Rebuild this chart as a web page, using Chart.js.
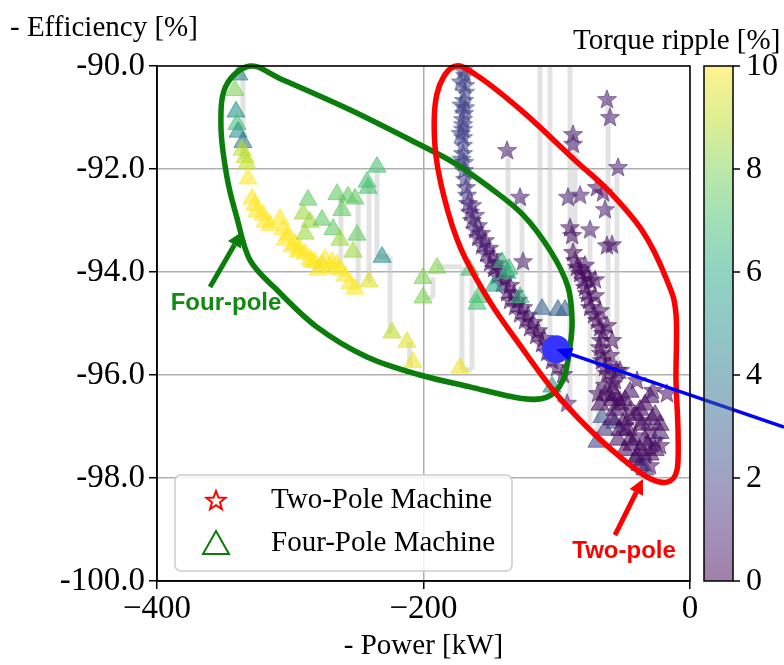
<!DOCTYPE html>
<html><head><meta charset="utf-8">
<script src="https://cdn.jsdelivr.net/npm/chart.js@4/dist/chart.umd.min.js"></script>
<style>html,body{margin:0;padding:0;background:#fff}</style>
</head><body>
<canvas id="c" width="784" height="665"></canvas>
<script>
// ---------------- DATA ----------------
const xTicks = [-400, -200, 0];
const yTicks = [-100, -98, -96, -94, -92, -90];
const cbTicks = [0, 2, 4, 6, 8, 10];

// Four-pole machine (triangles): power, efficiency, torque ripple
const fourX = [-338.5,-341.5,-340.7,-340.0,-339.2,-335.5,-336.2,-334.0,-332.5,-331.7,-328.7,-325.0,-320.4,-318.9,-307.7,-305.4,-301.7,-296.4,-294.2,-288.9,-285.2,-281.4,-279.2,-273.9,-268.7,-264.9,-255.2,-251.4,
  -326.5,-315.2,-303.9,-298.7,-292.7,-283.7,-276.2,-270.2,-262.7,-258.9,
  -286.7,-290.4,-285.2,-276.2,-288.9,-267.9,-264.9,-256.7,-251.4,-261.2,-262.7,-249.9,-252.9,-234.9,-242.4,-241.6,-231.1,-240.9,
  -189.9,-200.4,-200.4,-223.6,-212.4,-207.9,-172.6,-165.1,-159.1,-141.1,-135.8,-147.1,-127.6,-159.8,-137.3,-111.1,-99.1,-93.8,-103.6,-66.0,-56.3,
  -45.0,-30.0,-39.8,-28.5,-22.5,-37.5,-48.8,-33.8,-43.5,-52.5,-26.2,-56.3,-36.0,-58.5,-46.6,-31.5,-37.5,-54.0,-63.8,-69.8,
  -63.8,-56.3,-48.8,-41.3,-33.8,-26.2,-22.5,-52.5,-45.0,-37.5,-30.0,-48.8,-41.3,-33.8,-58.5,-67.5];
const fourY = [-90.17,-90.47,-90.89,-91.13,-91.28,-91.48,-91.63,-91.77,-91.90,-92.19,-92.58,-92.83,-92.89,-93.03,-92.97,-93.17,-93.28,-93.46,-93.61,-93.65,-93.75,-93.81,-93.96,-93.75,-93.81,-93.86,-94.23,-94.33,
  -92.70,-93.09,-93.38,-93.51,-93.57,-93.81,-93.86,-93.92,-93.96,-94.08,
  -92.60,-92.87,-93.03,-92.99,-93.26,-93.17,-92.49,-92.54,-92.58,-92.80,-93.38,-93.28,-93.61,-91.96,-92.25,-92.37,-93.71,-94.19,
  -93.92,-94.12,-94.50,-95.18,-95.36,-95.75,-95.86,-93.96,-94.49,-93.81,-93.94,-94.27,-94.49,-94.62,-94.02,-94.72,-94.74,-94.74,-96.23,-96.82,-96.93,
  -96.33,-96.43,-97.59,-96.87,-97.13,-96.68,-96.87,-97.26,-97.36,-96.58,-97.46,-96.39,-96.97,-96.49,-97.07,-97.36,-97.75,-97.26,-97.07,-97.30,
  -96.39,-96.68,-96.49,-96.78,-96.58,-96.78,-96.97,-97.07,-97.26,-97.46,-97.55,-97.46,-97.65,-97.84,-96.87,-96.58];
const fourRipple = [4.5,8,5,7,5,4,9,9,9,10,10,10,10,10,10,10,10,10,10,10,10,10,10,10,10,10,10,10,
  10,10,10,10,10,10,9.8,10,10,10,
  7.5,8.5,8.5,7.5,8.5,7.5,7.5,7.5,7.5,7.5,8.5,7.5,8.5,7,7,7,5,9.5,
  8,8,8,9,9.5,9.8,9.8,7,7,6.5,6.5,6,6.5,7,6.5,3,3,3,5,2.5,2.5,
  0.5,0.5,1,0.5,1,0.3,0.3,0.3,0.3,0.3,0.5,0.3,0.3,0.3,0.3,0.3,0.5,0.5,1.5,2,
  0.3,0.3,0.3,0.3,0.3,0.3,0.3,0.3,0.3,0.3,0.3,0.3,0.3,1.5,0.3,0.3];

// Two-pole machine (stars)
const twoX = [-170.3,-168.8,-168.8,-168.8,-169.6,-168.8,-169.6,-170.3,-170.3,-170.3,-170.3,-170.3,-170.3,-169.6,-169.6,-168.8,-168.1,-167.3,-166.6,-165.1,-163.6,-161.3,-159.1,-156.1,-153.1,-150.1,-147.1,-144.8,-141.1,-137.3,-135.1,-131.3,-127.6,-123.8,-120.1,-115.6,-111.1,-107.3,-103.6,-99.8,-95.3,
  -172.0,-171.5,-172.0,-171.5,
  -163.6,-161.3,-159.1,-156.8,-153.8,-150.8,-147.8,-144.8,-141.8,-138.8,-135.1,-132.1,-129.1,-125.3,-121.6,-117.8,-114.1,-109.6,-105.1,
  -137.3,-127.6,-125.3,-87.8,-87.8,-62.3,-60.0,-54.0,-91.6,-82.5,-69.8,-65.3,-63.8,-90.1,-75.0,-88.5,-62.3,-58.5,-92.3,-82.5,-77.3,-71.3,
  -87.8,-86.3,-84.8,-82.5,-80.3,-78.8,-77.3,-75.8,-75.0,-72.0,-69.8,-67.5,-65.3,-66.8,-67.5,-66.8,-66.0,-63.8,-62.3,-60.0,-54.8,-57.8,-52.5,-69.0,-39.8,-27.8,-17.3,
  -78.8,-75.0,-71.3,-67.5,-62.3,-58.5,-60.0,-56.3,-63.8,
  -60.0,-52.5,-45.0,-37.5,-30.0,-26.2,-33.8,-41.3,-48.8,-22.5,-30.0];
const twoY = [-90.08,-90.17,-90.37,-90.50,-90.66,-90.80,-90.91,-91.03,-91.13,-91.22,-91.38,-91.53,-91.69,-91.86,-92.02,-92.19,-92.35,-92.50,-92.66,-92.83,-92.99,-93.17,-93.32,-93.48,-93.63,-93.81,-93.92,-94.06,-94.21,-94.39,-94.54,-94.66,-94.80,-94.93,-95.07,-95.22,-95.38,-95.55,-95.71,-95.84,-95.98,
  -90.30,-90.75,-91.30,-91.80,
  -92.70,-92.89,-93.09,-93.24,-93.38,-93.53,-93.69,-93.83,-93.96,-94.12,-94.25,-94.41,-94.54,-94.68,-94.83,-94.97,-95.13,-95.28,-95.44,
  -91.63,-92.54,-93.79,-91.32,-91.51,-90.64,-90.99,-91.96,-92.54,-92.50,-92.35,-92.45,-92.78,-93.13,-93.17,-93.28,-93.48,-93.46,-96.54,-93.94,-94.06,-94.14,
  -93.61,-93.77,-93.90,-94.02,-94.16,-94.29,-94.41,-94.54,-94.68,-94.82,-94.93,-95.07,-95.18,-95.32,-95.46,-95.57,-95.71,-95.84,-95.96,-95.84,-95.90,-96.16,-95.90,-96.35,-96.10,-96.29,-96.35,
  -93.86,-94.16,-94.45,-94.74,-95.03,-95.32,-95.61,-96.10,-96.19,
  -96.39,-96.49,-96.68,-96.87,-97.07,-97.26,-97.55,-97.17,-96.97,-97.36,-97.75];
const twoRipple = [2,2,2,2,2,2,2,2,2,2,2,2,2,2,1.8,1.8,1.5,1.5,1.2,1,1,1,0.8,0.8,0.6,0.5,0.5,0.5,0.5,0.4,0.4,0.4,0.4,0.4,0.4,0.4,0.4,0.4,0.4,0.4,0.4,
  2,2,2,2,
  1.2,1,1,0.8,0.8,0.6,0.5,0.5,0.5,0.5,0.4,0.4,0.4,0.4,0.4,0.4,0.4,0.4,0.4,
  0.8,0.8,0.8,0.8,0.8,0.8,0.8,0.8,0.8,0.8,0.5,0.5,0.8,0.5,0.8,0.5,0.5,0.5,0.8,0.3,0.5,0.5,
  0.3,0.3,0.3,0.3,0.3,0.3,0.3,0.3,0.3,0.3,0.3,0.3,0.3,0.3,0.3,0.3,0.3,0.3,0.3,0.3,0.3,0.3,0.3,0.3,0.3,0.3,0.3,
  0.3,0.3,0.3,0.3,0.3,0.3,0.3,0.3,0.3,
  0.3,0.3,0.3,0.3,0.3,0.3,0.3,0.3,0.3,0.3,0.3];

// light grey connector lines (vertical: x, top, bottom; horizontal: y, left, right)
const grayVX   = [-136.6,-126.1,-112.6,-105.1,-90.1,-86.3,-61.5,-54.8,-75.0,-69.0,-335.5,-234.9,-225.1,-240.9,-249.0,-262.0,-192.9,-171.1,-163.6,-210.4];
const grayVTop = [-91.63,-92.54,-90.0,-90.0,-90.0,-91.30,-90.6,-92.0,-93.2,-94.5,-90.10,-91.96,-93.70,-92.30,-92.60,-92.50,-94.10,-93.90,-94.00,-95.36];
const grayVBot = [-94.40,-94.80,-95.30,-95.50,-96.50,-93.60,-96.40,-96.40,-97.0,-97.3,-91.80,-93.70,-95.20,-94.20,-94.30,-93.90,-94.50,-95.90,-95.90,-95.80];
const grayHY  = [-93.70,-93.90,-95.90,-94.50,-95.80];
const grayHX1 = [-234.9,-189.9,-171.1,-200.4,-210.4];
const grayHX2 = [-225.1,-171.1,-163.6,-192.9,-207.9];

// annotation shapes (data units)
const greenLoopX = [-330.0,-305.4,-255.2,-204.9,-177.1,-150.8,-125.3,-104.3,-91.6,-88.5,-90.1,-95.3,-107.3,-127.6,-165.1,-202.6,-242.4,-279.9,-309.9,-330.2,-340.2,-347.5,-352.0,-348.5];
const greenLoopY = [-90.00,-90.27,-90.85,-91.50,-91.88,-92.35,-92.89,-93.61,-94.29,-94.93,-95.46,-96.10,-96.43,-96.45,-96.23,-96.00,-95.65,-95.07,-94.35,-93.77,-92.93,-92.16,-91.18,-90.40];
const redLoopX = [-177.9,-161.3,-125.3,-86.3,-60.8,-35.3,-17.3,-10.5,-10.5,-9.0,-9.7,-17.3,-32.3,-52.5,-77.3,-102.8,-127.6,-150.1,-171.9,-184.6,-191.4,-189.9];
const redLoopY = [-90.02,-90.16,-90.89,-91.83,-92.43,-93.22,-94.16,-94.82,-96.10,-97.07,-97.84,-98.08,-97.98,-97.59,-97.01,-96.29,-95.42,-94.58,-93.55,-92.54,-91.55,-90.54];
const fourArrow = {from:[-360.2,-94.29], to:[-336.2,-93.22], label:'Four-pole', at:[-348.2,-94.60]};
const twoArrow  = {from:[-56.3,-99.11], to:[-35.3,-98.02], label:'Two-pole', at:[-49.5,-99.42]};
const blueDot = [-100.5,-95.50];
const blueLineEnd = [70.6,-97.01];

// ---------------- HELPERS ----------------
const VIRIDIS = ['#440154','#482475','#414487','#355f8d','#2a788e','#21918c','#22a884','#44bf70','#7ad151','#bddf26','#fde725'];
function hexRgb(h){return [parseInt(h.slice(1,3),16),parseInt(h.slice(3,5),16),parseInt(h.slice(5,7),16)];}
function viridis(v,a){
  const t=Math.max(0,Math.min(1,v/10))*10; const i=Math.min(9,Math.floor(t)); const f=t-i;
  const c0=hexRgb(VIRIDIS[i]), c1=hexRgb(VIRIDIS[i+1]);
  const c=c0.map((c,k)=>Math.round(c+(c1[k]-c)*f));
  return `rgba(${c[0]},${c[1]},${c[2]},${a})`;
}
function starPath(g,cx,cy,R,r){g.beginPath();for(let k=0;k<10;k++){const ang=-Math.PI/2+k*Math.PI/5;const rad=k%2?r:R;g.lineTo(cx+rad*Math.cos(ang),cy+rad*Math.sin(ang));}g.closePath();}
const starCache={};
function starImg(v){
  const key=v.toFixed(2); if(starCache[key])return starCache[key];
  const c=document.createElement('canvas'); c.width=c.height=24; const g=c.getContext('2d');
  starPath(g,12,12.8,10,4.2); g.fillStyle=viridis(v,0.55); g.fill(); g.strokeStyle=viridis(v,0.55); g.lineWidth=1; g.stroke();
  starCache[key]=c; return c;
}
const grayPts=[];
grayVX.forEach((x,i)=>{grayPts.push({x,y:grayVTop[i]},{x,y:grayVBot[i]},{x,y:null});});
grayHY.forEach((y,i)=>{grayPts.push({x:grayHX1[i],y},{x:grayHX2[i],y},{x:grayHX2[i],y:null});});

const SERIF='"Liberation Serif","Times New Roman",serif';
const SANS='"Liberation Sans",Arial,sans-serif';

function closedSpline(g,pts){
  const n=pts.length; g.beginPath(); g.moveTo(pts[0][0],pts[0][1]);
  for(let i=0;i<n;i++){
    const p0=pts[(i-1+n)%n],p1=pts[i],p2=pts[(i+1)%n],p3=pts[(i+2)%n];
    g.bezierCurveTo(p1[0]+(p2[0]-p0[0])/6,p1[1]+(p2[1]-p0[1])/6,p2[0]-(p3[0]-p1[0])/6,p2[1]-(p3[1]-p1[1])/6,p2[0],p2[1]);
  }
  g.closePath();
}
function arrow(g,x1,y1,x2,y2,color,w,hl,hw){
  const ang=Math.atan2(y2-y1,x2-x1);
  const bx=x2-hl*Math.cos(ang), by=y2-hl*Math.sin(ang);
  g.strokeStyle=color; g.lineWidth=w; g.lineCap='butt';
  g.beginPath(); g.moveTo(x1,y1); g.lineTo(bx,by); g.stroke();
  g.fillStyle=color; g.beginPath(); g.moveTo(x2,y2);
  g.lineTo(bx+hw/2*Math.sin(ang),by-hw/2*Math.cos(ang));
  g.lineTo(bx-hw/2*Math.sin(ang),by+hw/2*Math.cos(ang)); g.closePath(); g.fill();
}

const annotPlugin={
  id:'annot',
  afterDatasetsDraw(chart){
    const g=chart.ctx, X=chart.scales.x, Y=chart.scales.y;
    const P=(x,y)=>[X.getPixelForValue(x),Y.getPixelForValue(y)];
    g.save();
    g.lineWidth=5.5; g.lineJoin='round';
    closedSpline(g,greenLoopX.map((x,i)=>P(x,greenLoopY[i]))); g.strokeStyle='#0b7d0b'; g.stroke();
    closedSpline(g,redLoopX.map((x,i)=>P(x,redLoopY[i]))); g.strokeStyle='#ff0000'; g.stroke();
    let a=P(...fourArrow.from), b=P(...fourArrow.to);
    arrow(g,a[0],a[1],b[0],b[1],'#0b7d0b',5,15,15);
    a=P(...twoArrow.from); b=P(...twoArrow.to);
    arrow(g,a[0],a[1],b[0],b[1],'#ff0000',5,15,15);
    g.font='bold 24px '+SANS; g.textAlign='center'; g.textBaseline='middle';
    let t=P(...fourArrow.at); g.fillStyle='#118a11'; g.fillText(fourArrow.label,t[0],t[1]);
    t=P(...twoArrow.at); g.fillStyle='#ff0000'; g.fillText(twoArrow.label,t[0],t[1]);
    const d=P(...blueDot), e=P(...blueLineEnd);
    g.fillStyle='#3535ff'; g.beginPath(); g.arc(d[0],d[1],14,0,Math.PI*2); g.fill();
    arrow(g,e[0],e[1],d[0],d[1],'#0000ff',3.5,16,14);
    g.restore();
  },
  afterDraw(chart){
    const g=chart.ctx, ca=chart.chartArea;
    g.save();
    g.strokeStyle='#000'; g.lineWidth=1.5; g.strokeRect(ca.left,ca.top,ca.right-ca.left,ca.bottom-ca.top);
    // legend
    const lx=ca.left+18, ly=ca.bottom-106, lw=337, lh=96, r=6;
    g.beginPath(); g.moveTo(lx+r,ly); g.arcTo(lx+lw,ly,lx+lw,ly+lh,r); g.arcTo(lx+lw,ly+lh,lx,ly+lh,r); g.arcTo(lx,ly+lh,lx,ly,r); g.arcTo(lx,ly,lx+lw,ly,r); g.closePath();
    g.fillStyle='rgba(255,255,255,0.85)'; g.fill(); g.strokeStyle='#cccccc'; g.lineWidth=1.5; g.stroke();
    const mx=lx+41, y1=ly+25, y2=ly+68;
    starPath(g,mx,y1+1,10,4.2); g.strokeStyle='#ff0000'; g.lineWidth=2; g.stroke();
    g.beginPath(); g.moveTo(mx,y2-12); g.lineTo(mx+13,y2+11); g.lineTo(mx-13,y2+11); g.closePath(); g.strokeStyle='#0b7d0b'; g.lineWidth=2; g.stroke();
    g.fillStyle='#000'; g.font='29px '+SERIF; g.textAlign='left'; g.textBaseline='middle';
    g.fillText('Two-Pole Machine',lx+96,y1); g.fillText('Four-Pole Machine',lx+96,y2);
    // colorbar
    const cx0=ca.right+14, cw=29;
    const grad=g.createLinearGradient(0,ca.bottom,0,ca.top);
    for(let i=0;i<=20;i++) grad.addColorStop(i/20,viridis(i/2,0.5));
    g.fillStyle=grad; g.fillRect(cx0,ca.top,cw,ca.bottom-ca.top);
    g.strokeStyle='#000'; g.lineWidth=1.5; g.strokeRect(cx0,ca.top,cw,ca.bottom-ca.top);
    g.font='32px '+SERIF; g.fillStyle='#000'; g.textAlign='left'; g.textBaseline='middle';
    cbTicks.forEach(v=>{const yy=ca.bottom-(ca.bottom-ca.top)*v/10; g.beginPath(); g.moveTo(cx0+cw,yy); g.lineTo(cx0+cw+7,yy); g.stroke(); g.fillText(String(v),cx0+cw+13,yy+1);});
    g.font='29px '+SERIF; g.textBaseline='alphabetic';
    g.fillText('- Efficiency [%]',10,36);
    g.fillText('Torque ripple [%]',573,49);
    g.textAlign='center';
    g.fillText('- Power [kW]',(ca.left+ca.right)/2,654);
    g.restore();
  }
};

new Chart(document.getElementById('c'),{
  type:'scatter',
  data:{datasets:[
    {label:'Four-Pole Machine',data:fourX.map((x,i)=>({x,y:fourY[i]})),pointStyle:'triangle',pointRadius:10.5,
      backgroundColor:c=>viridis(fourRipple[c.dataIndex],0.58),borderColor:c=>viridis(fourRipple[c.dataIndex],0.6),borderWidth:1,order:1},
    {label:'Two-Pole Machine',data:twoX.map((x,i)=>({x,y:twoY[i]})),pointStyle:c=>starImg(twoRipple[c.dataIndex]),pointRadius:10,order:2},
    {label:'connectors',data:grayPts,showLine:true,pointRadius:0,borderColor:'rgba(200,200,200,0.5)',borderWidth:5,spanGaps:false,order:3}
  ]},
  options:{
    responsive:false,animation:false,events:[],
    layout:{padding:{left:0,top:66,right:94,bottom:0}},
    plugins:{legend:{display:false},tooltip:{enabled:false}},
    scales:{
      x:{type:'linear',min:-400,max:0,
        afterBuildTicks:s=>{s.ticks=xTicks.map(v=>({value:v}));},
        afterFit:s=>{s.height=84;},
        ticks:{callback:v=>v<0?'\u2212'+Math.abs(v):String(v),font:{family:SERIF,size:33},color:'#000',padding:1,maxRotation:0,autoSkip:false},
        grid:{color:'#b0b0b0',lineWidth:1.5,tickLength:8,tickColor:'#000',tickWidth:1.5},
        border:{color:'#000',width:1.5}},
      y:{type:'linear',min:-100,max:-90,
        afterBuildTicks:s=>{s.ticks=yTicks.map(v=>({value:v}));},
        afterFit:s=>{s.width=157;},
        ticks:{callback:v=>v.toFixed(1),font:{family:SERIF,size:33},color:'#000',padding:4,autoSkip:false},
        grid:{color:'#b0b0b0',lineWidth:1.5,tickLength:8,tickColor:'#000',tickWidth:1.5},
        border:{color:'#000',width:1.5}}
    }
  },
  plugins:[annotPlugin]
});
</script>
</body></html>
